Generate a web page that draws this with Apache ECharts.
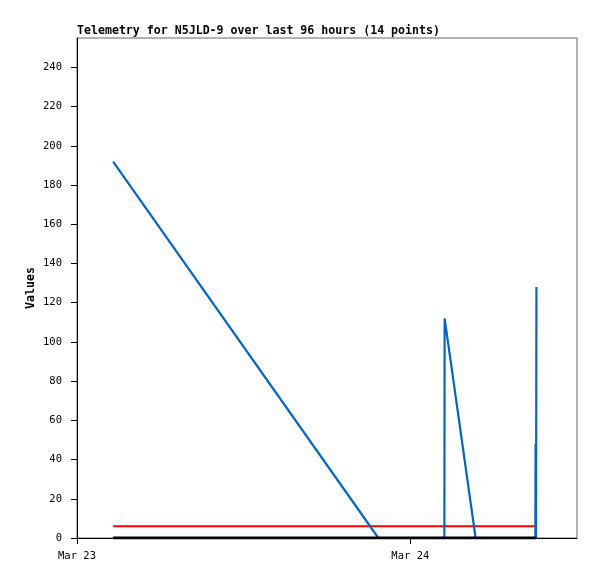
<!DOCTYPE html>
<html><head><meta charset="utf-8">
<script src="https://cdn.jsdelivr.net/npm/echarts@6/dist/echarts.min.js"></script>
<style>html,body{margin:0;padding:0;background:#fff}#c{width:597px;height:579px}</style>
</head><body><div id="c"></div>
<script>
// hours since Mar 23 00:00
const blueHours = [2.6, 21.7, 26.45, 26.47, 28.7, 33.0, 33.02, 33.05, 33.08];
const blueValues = [192, 0, 0, 112, 0, 0, 48, 0, 128];
const redHours = [2.6, 33.08];
const redValues = [6, 6];
const blackHours = [2.6, 33.08];
const blackValues = [0, 0];
const xTickHours = [0, 24];
const xTickLabels = ['Mar 23', 'Mar 24'];
const yTicks = [0, 20, 40, 60, 80, 100, 120, 140, 160, 180, 200, 220, 240];

const font = '"DejaVu Sans Mono", "Liberation Mono", monospace';
const zip = (a, b) => a.map((v, i) => [v, b[i]]);
const chart = echarts.init(document.getElementById('c'), null, {renderer: 'canvas'});
chart.setOption({
  animation: false,
  title: {text: 'Telemetry for N5JLD-9 over last 96 hours (14 points)', left: 77, top: 25, padding: 0,
    textStyle: {fontFamily: font, fontSize: 11.6, fontWeight: 'bold', color: '#000'}},
  grid: {left: 77, right: 20, top: 38, bottom: 41, show: true, borderColor: '#666', borderWidth: 1},
  xAxis: {type: 'value', min: 0, max: 36,
    axisLine: {show: true, lineStyle: {color: '#000', width: 1}},
    axisTick: {show: true, length: 6, lineStyle: {color: '#000'}, customValues: xTickHours},
    axisLabel: {fontFamily: font, fontSize: 10.5, color: '#000', margin: 13, customValues: xTickHours,
      formatter: v => xTickLabels[xTickHours.indexOf(v)] || ''},
    splitLine: {show: false}},
  yAxis: {type: 'value', min: 0, max: 255,
    name: 'Values', nameLocation: 'middle', nameGap: 40, nameRotate: 90, nameMoveOverlap: false,
    nameTextStyle: {fontFamily: font, fontSize: 11.6, fontWeight: 'bold', color: '#000'},
    axisLine: {show: true, lineStyle: {color: '#000', width: 1}},
    axisTick: {show: true, length: 6, lineStyle: {color: '#000'}, customValues: yTicks},
    axisLabel: {fontFamily: font, fontSize: 10.5, color: '#000', margin: 15, customValues: yTicks},
    splitLine: {show: false}},
  series: [
    {type: 'line', data: zip(redHours, redValues), showSymbol: false, lineStyle: {color: '#ff0000', width: 2}, z: 2},
    {type: 'line', data: zip(blueHours, blueValues), showSymbol: false, lineStyle: {color: '#0066cc', width: 2.2}, z: 3},
    {type: 'line', data: zip(blackHours, blackValues), showSymbol: false, lineStyle: {color: '#000', width: 3}, z: 4}
  ]
});
</script></body></html>
